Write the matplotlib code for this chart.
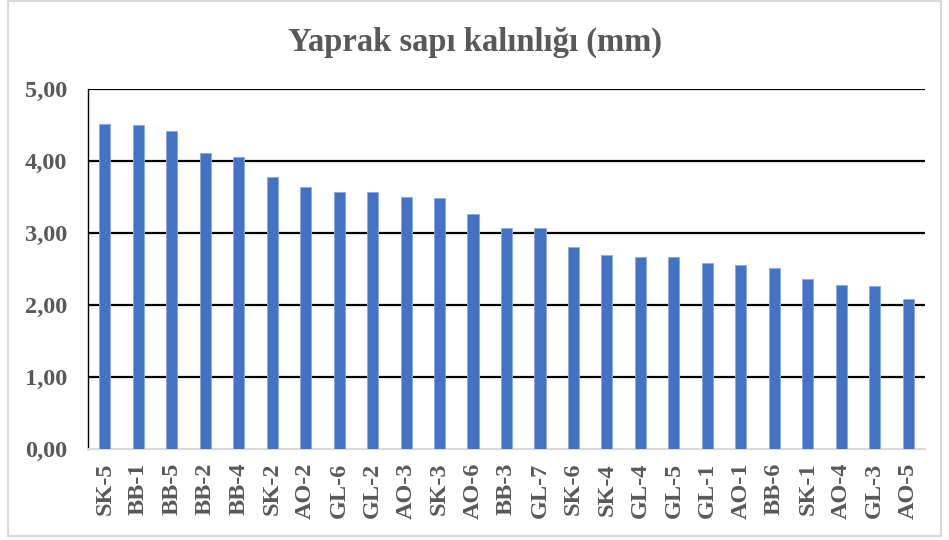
import matplotlib

matplotlib.use("Agg")
import matplotlib.pyplot as plt
from matplotlib.patches import Rectangle

samples = ["SK-5", "BB-1", "BB-5", "BB-2", "BB-4", "SK-2", "AO-2", "GL-6", "GL-2",
           "AO-3", "SK-3", "AO-6", "BB-3", "GL-7", "SK-6", "SK-4", "GL-4", "GL-5",
           "GL-1", "AO-1", "BB-6", "SK-1", "AO-4", "GL-3", "AO-5"]
thickness = [4.52, 4.50, 4.41, 4.11, 4.06, 3.78, 3.64, 3.57, 3.57,
             3.50, 3.48, 3.26, 3.07, 3.07, 2.81, 2.69, 2.66, 2.66,
             2.58, 2.56, 2.52, 2.36, 2.28, 2.26, 2.09]
yticks = [0, 1, 2, 3, 4, 5]
ytick_labels = ["0,00", "1,00", "2,00", "3,00", "4,00", "5,00"]

plt.rcParams["font.family"] = ["Liberation Serif", "DejaVu Serif"]
text_color = "#595959"

fig = plt.figure(figsize=(9.49, 5.4), dpi=100)
fig.patches.append(Rectangle((8 / 949, 4 / 540), 933 / 949, 535 / 540,
                             transform=fig.transFigure, fill=False,
                             edgecolor="#d9d9d9", linewidth=1.5))

ax = fig.add_axes([88 / 949, 91 / 540, 837 / 949, 360 / 540])
x = range(len(samples))
ax.bar(x, thickness, width=0.33, color="#4472c4", edgecolor="#8faadc",
       linewidth=0.6, zorder=3)

ax.set_xlim(-0.5, len(samples) - 0.5)
ax.set_ylim(0, 5)
ax.set_yticks(yticks)
ax.set_yticklabels(ytick_labels)
ax.set_xticks(list(x))
ax.set_xticklabels(samples, rotation=90)
ax.tick_params(axis="both", length=0, colors=text_color, labelsize=17.5)
ax.tick_params(axis="y", pad=15)
ax.tick_params(axis="x", pad=10)
for lbl in ax.get_xticklabels() + ax.get_yticklabels():
    lbl.set_fontweight("bold")

for y in yticks[1:]:
    ax.axhline(y, color="black", linewidth=1.6, zorder=2)

for side in ["top", "right"]:
    ax.spines[side].set_visible(False)
ax.spines["left"].set_color("black")
ax.spines["left"].set_linewidth(1.0)
ax.spines["bottom"].set_color("#d9d9d9")
ax.spines["bottom"].set_linewidth(1.5)

fig.text(0.5, 1 - 42 / 540, "Yaprak sapı kalınlığı (mm)", ha="center", va="center",
         fontsize=23.5, fontweight="bold", color=text_color)

fig.savefig("out.png", dpi=100)
plt.close(fig)
